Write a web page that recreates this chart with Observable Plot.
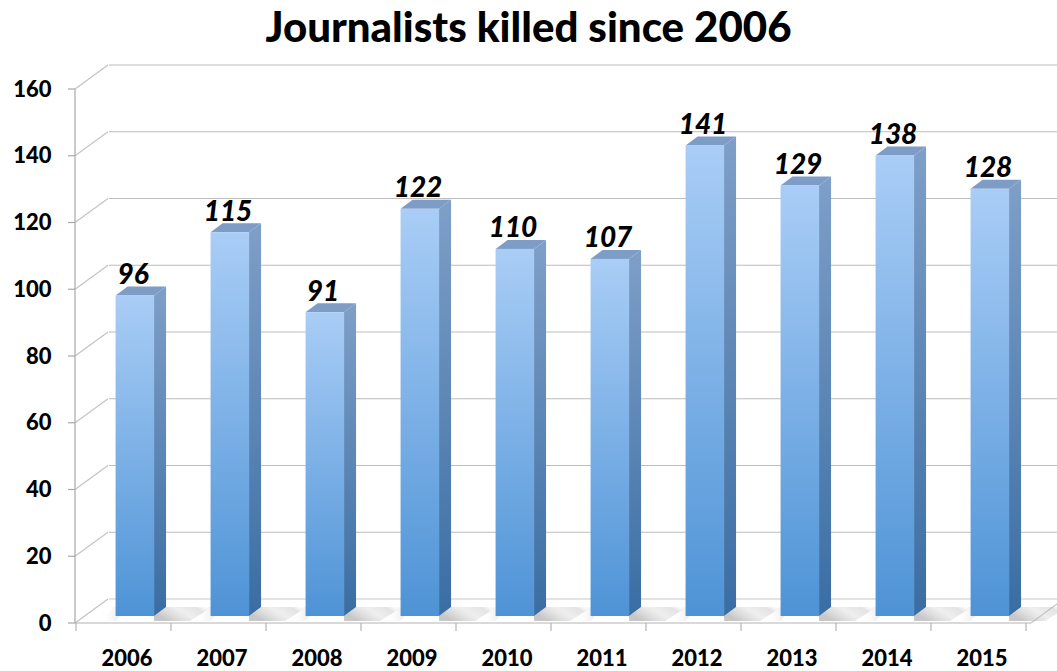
<!DOCTYPE html>
<html>
<head>
<meta charset="utf-8">
<script src="https://cdn.jsdelivr.net/npm/d3@7"></script>
<script src="https://cdn.jsdelivr.net/npm/@observablehq/plot@0.6"></script>
<style>
  html, body { margin: 0; padding: 0; background: #fff; }
  #title { height: 62px; width: 1057px; text-align: center; font-family: Lato, "Open Sans", sans-serif; font-weight: 900; font-size: 42px; line-height: 52px; color: #000; white-space: nowrap; }
  #chart svg { display: block; }
</style>
</head>
<body>
<div id="title">Journalists killed since 2006</div>
<div id="chart"></div>
<script>
const years = ["2006", "2007", "2008", "2009", "2010", "2011", "2012", "2013", "2014", "2015"];
const killed = [96, 115, 91, 122, 110, 107, 141, 129, 138, 128];
const yTicks = [0, 20, 40, 60, 80, 100, 120, 140, 160];

const data = years.map((year, i) => ({year, killed: killed[i]}));

// depth offsets (pixels)
const WDX = 33, WDY = -24;   // back wall
const BDX = 12, BDY = -9;    // bar depth
const BOFF = -7;             // bar base offset from front floor edge
const F0 = 0.385, F1 = 0.79; // front face position inside band

const font = "Lato, 'Open Sans', sans-serif";

function wallRender(I, {x, y}, values, dim) {
  const g = d3.create("svg:g");
  const left = dim.marginLeft, right = dim.width - dim.marginRight;
  for (const t of yTicks) {
    const yy = y(t);
    g.append("line").attr("x1", left + WDX).attr("x2", dim.width).attr("y1", yy + WDY).attr("y2", yy + WDY)
      .attr("stroke", t === 0 ? "#c8c8c8" : "#bdbdbd").attr("stroke-width", 1.2);
    g.append("line").attr("x1", left - 1).attr("x2", left - 1 + WDX).attr("y1", yy).attr("y2", yy + WDY)
      .attr("stroke", "#c4c4c4").attr("stroke-width", 1.2);
    g.append("line").attr("x1", left - 8).attr("x2", left - 1).attr("y1", yy).attr("y2", yy)
      .attr("stroke", "#a8a8a8").attr("stroke-width", 1.2);
  }
  g.append("line").attr("x1", left - 1).attr("x2", left - 1).attr("y1", y(160)).attr("y2", y(0))
    .attr("stroke", "#a8a8a8").attr("stroke-width", 1.2);
  const y0 = y(0);
  g.append("line").attr("x1", left - 1).attr("x2", right).attr("y1", y0).attr("y2", y0)
    .attr("stroke", "#b4b4b4").attr("stroke-width", 1.2);
  g.append("line").attr("x1", right).attr("x2", right + WDX).attr("y1", y0).attr("y2", y0 + WDY)
    .attr("stroke", "#c4c4c4").attr("stroke-width", 1.2);
  const bw = x.bandwidth();
  for (let k = 0; k <= years.length; k++) {
    const xx = left + k * bw;
    g.append("line").attr("x1", xx).attr("x2", xx).attr("y1", y0).attr("y2", y0 + 8)
      .attr("stroke", "#b4b4b4").attr("stroke-width", 1.2);
  }
  return g.node();
}

function barsRender(I, {x, y}, values, dim) {
  const g = d3.create("svg:g");
  const defs = g.append("defs");
  const front = defs.append("linearGradient").attr("id", "gFront").attr("x1", 0).attr("x2", 0).attr("y1", 0).attr("y2", 1);
  front.append("stop").attr("offset", "0%").attr("stop-color", "#a9cdf6");
  front.append("stop").attr("offset", "100%").attr("stop-color", "#4e93d6");
  const side = defs.append("linearGradient").attr("id", "gSide").attr("x1", 0).attr("x2", 0).attr("y1", 0).attr("y2", 1);
  side.append("stop").attr("offset", "0%").attr("stop-color", "#7e9fc8");
  side.append("stop").attr("offset", "100%").attr("stop-color", "#3a6da3");
  const shadow = defs.append("linearGradient").attr("id", "gShadow").attr("x1", 0).attr("x2", 1).attr("y1", 0.4).attr("y2", 0);
  shadow.append("stop").attr("offset", "0%").attr("stop-color", "#9a9a9a").attr("stop-opacity", 0.55);
  shadow.append("stop").attr("offset", "45%").attr("stop-color", "#d0d0d0").attr("stop-opacity", 0.35);
  shadow.append("stop").attr("offset", "75%").attr("stop-color", "#b0b0b0").attr("stop-opacity", 0.35);
  shadow.append("stop").attr("offset", "100%").attr("stop-color", "#ffffff").attr("stop-opacity", 0);
  const lshadow = defs.append("linearGradient").attr("id", "gLShadow").attr("x1", 1).attr("x2", 0).attr("y1", 0).attr("y2", 0);
  lshadow.append("stop").attr("offset", "0%").attr("stop-color", "#a0a0a0").attr("stop-opacity", 0.45);
  lshadow.append("stop").attr("offset", "100%").attr("stop-color", "#ffffff").attr("stop-opacity", 0);
  const bw = x.bandwidth();
  for (const i of I) {
    const d = data[i];
    const bx = x(d.year);
    const x1 = bx + F0 * bw, x2 = bx + F1 * bw;
    const yb = y(0) + BOFF, yt = y(d.killed) + BOFF;
    // floor shadows
    g.append("path")
      .attr("d", `M${x1 - 14},${yb + 5}L${x1 - 2},${yb + BDY}L${x1 + BDX},${yb + BDY}L${x1},${yb + 5}Z`)
      .attr("fill", "url(#gLShadow)");
    g.append("path")
      .attr("d", `M${x2},${yb}L${x2 + BDX},${yb + BDY}L${x2 + BDX + 46},${yb + BDY}L${x2 + 36},${yb + 5}L${x2},${yb + 5}Z`)
      .attr("fill", "url(#gShadow)");
    // side face
    g.append("path")
      .attr("d", `M${x2},${yb}L${x2 + BDX},${yb + BDY}L${x2 + BDX},${yt + BDY}L${x2},${yt}Z`)
      .attr("fill", "url(#gSide)");
    // top face
    g.append("path")
      .attr("d", `M${x1},${yt}L${x1 + BDX},${yt + BDY}L${x2 + BDX},${yt + BDY}L${x2},${yt}Z`)
      .attr("fill", "#7d9cc6");
    // front face
    g.append("rect").attr("x", x1).attr("y", yt).attr("width", x2 - x1).attr("height", yb - yt)
      .attr("fill", "url(#gFront)");
  }
  return g.node();
}

const chart = Plot.plot({
  width: 1057,
  height: 609,
  marginLeft: 76,
  marginRight: 26,
  marginTop: 27,
  marginBottom: 48,
  style: {fontFamily: font, background: "#fff"},
  x: {domain: years, padding: 0, axis: null},
  y: {domain: [0, 160], axis: null},
  marks: [
    Plot.ruleY(yTicks, {y: d => d, render: wallRender}),
    Plot.barY(data, {x: "year", y: "killed", render: barsRender}),
    Plot.text(data, {x: "year", y: "killed", text: d => String(d.killed), dx: 6, dy: -19, lineAnchor: "bottom",
      fontSize: 28, fontWeight: 900, fontStyle: "italic", fill: "#000"}),
    Plot.text(yTicks, {y: d => d, text: d => String(d), frameAnchor: "left", textAnchor: "end", dx: -25,
      fontSize: 22, fontWeight: 900, fill: "#000"}),
    Plot.text(years, {x: d => d, y: () => 0, text: d => d, dy: 35, lineAnchor: "middle",
      fontSize: 22, fontWeight: 900, fill: "#000"})
  ]
});
document.getElementById("chart").append(chart);
</script>
</body>
</html>
